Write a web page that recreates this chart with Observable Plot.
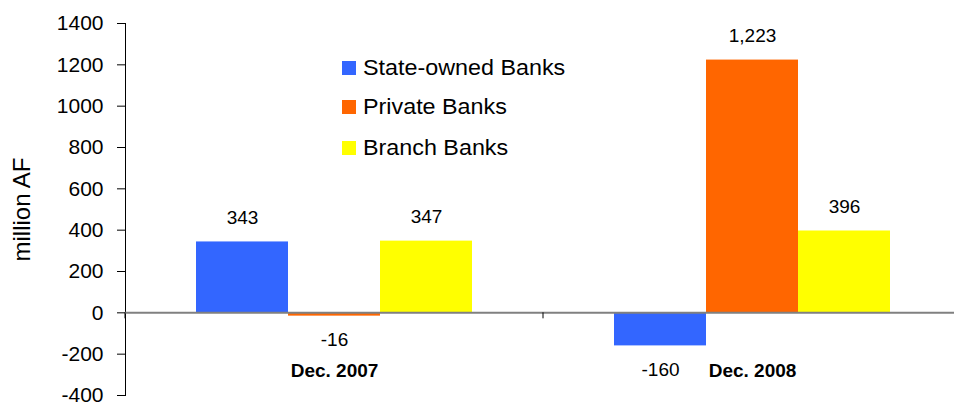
<!DOCTYPE html>
<html>
<head>
<meta charset="utf-8">
<script src="https://cdn.jsdelivr.net/npm/d3@7"></script>
<script src="https://cdn.jsdelivr.net/npm/@observablehq/plot@0.6"></script>
<style>
  html, body { margin: 0; padding: 0; background: #fff; }
  #wrap { position: relative; width: 954px; height: 405px; font-family: "Liberation Sans", Arial, sans-serif; }
  #legend { position: absolute; left: 342px; top: 0; font-size: 22px; color: #000; }
  .item { position: absolute; left: 0; white-space: nowrap; display: flex; align-items: center; }
  .item span { display: inline-block; transform: scaleX(1.06); transform-origin: left center; }
  .sw { width: 14px; height: 14px; margin-right: 7px; flex: none; }
  svg [aria-label="y-axis tick"] { stroke: #808080; }
  svg [aria-label="y-axis tick label"] { font-size: 21px; }
</style>
</head>
<body>
<div id="wrap"></div>
<script>
const categories = ["Dec. 2007", "Dec. 2008"];
const banks = ["State-owned Banks", "Private Banks", "Branch Banks"];
const stateOwned = [343, -160];
const privateBanks = [-16, 1223];
const branchBanks = [347, 396];
const yTicks = [-400, -200, 0, 200, 400, 600, 800, 1000, 1200, 1400];
const colors = ["#3366FF", "#FF6600", "#FFFF00"];
const yLabel = "million AF";

const seriesValues = [stateOwned, privateBanks, branchBanks];
const data = [];
categories.forEach((c, i) => banks.forEach((b, j) => data.push({date: c, bank: b, value: seriesValues[j][i]})));
const fmt = d3.formatLocale({decimal: ".", thousands: ",", grouping: [3], currency: ["", ""], minus: "-"}).format(",");

const plot = Plot.plot({
  width: 954,
  height: 405,
  marginLeft: 125,
  marginRight: 0,
  marginTop: 23,
  marginBottom: 10,
  style: {fontFamily: "Liberation Sans, Arial, sans-serif", fontSize: "21px", color: "#000", background: "#fff"},
  fx: {domain: categories, range: [125, 961], padding: 0, axis: null},
  x: {domain: banks, paddingInner: 0, paddingOuter: 0.75, axis: null},
  y: {domain: [-400, 1400], ticks: yTicks, tickFormat: d => String(d), tickSize: 8, tickPadding: 14, line: true, label: null},
  color: {domain: banks, range: colors},
  marks: [
    Plot.barY(data, {fx: "date", x: "bank", y: "value", fill: "bank", inset: 0}),
    Plot.ruleY([0], {stroke: "#808080", strokeWidth: 2}),
    Plot.text(data.filter(d => d.value >= 0), {fx: "date", x: "bank", y: "value", text: d => fmt(d.value), dy: -24, fontSize: 19}),
    Plot.text(data.filter(d => d.value < 0), {fx: "date", x: "bank", y: "value", text: d => fmt(d.value), dy: 24, fontSize: 19}),
    Plot.text(categories, {fx: d => d, y: 0, text: d => d, dy: 58, fontWeight: "bold", fontSize: 19}),
    Plot.text([yLabel], {fx: () => categories[0], frameAnchor: "left", textAnchor: "middle", dx: -103, rotate: -90, fontSize: 24, text: d => d})
  ]
});

document.getElementById("wrap").appendChild(plot);

// category boundary ticks on the zero line, from the fx scale
const fxs = plot.scale("fx");
const ys = plot.scale("y");
const y0 = ys.apply(0);
const svg = d3.select(plot);
const bounds = categories.map(c => fxs.apply(c)).concat([fxs.apply(categories[categories.length - 1]) + fxs.bandwidth]);
svg.append("g").selectAll("line").data(bounds).join("line")
  .attr("x1", d => d).attr("x2", d => d)
  .attr("y1", y0).attr("y2", y0 + 6)
  .attr("stroke", "#000").attr("stroke-width", 1);
svg.selectAll('[aria-label="y-axis line"] line, [aria-label="y-axis line"]').attr("stroke", "#808080").attr("stroke-width", 2);

// legend inside the plot area
const legend = d3.select("#wrap").append("div").attr("id", "legend");
const legendTops = [68, 107, 148];
banks.forEach((b, i) => {
  const it = legend.append("div").attr("class", "item").style("top", (legendTops[i] - 13) + "px");
  it.append("div").attr("class", "sw").style("background", colors[i]);
  it.append("span").text(b);
});
</script>
</body>
</html>
